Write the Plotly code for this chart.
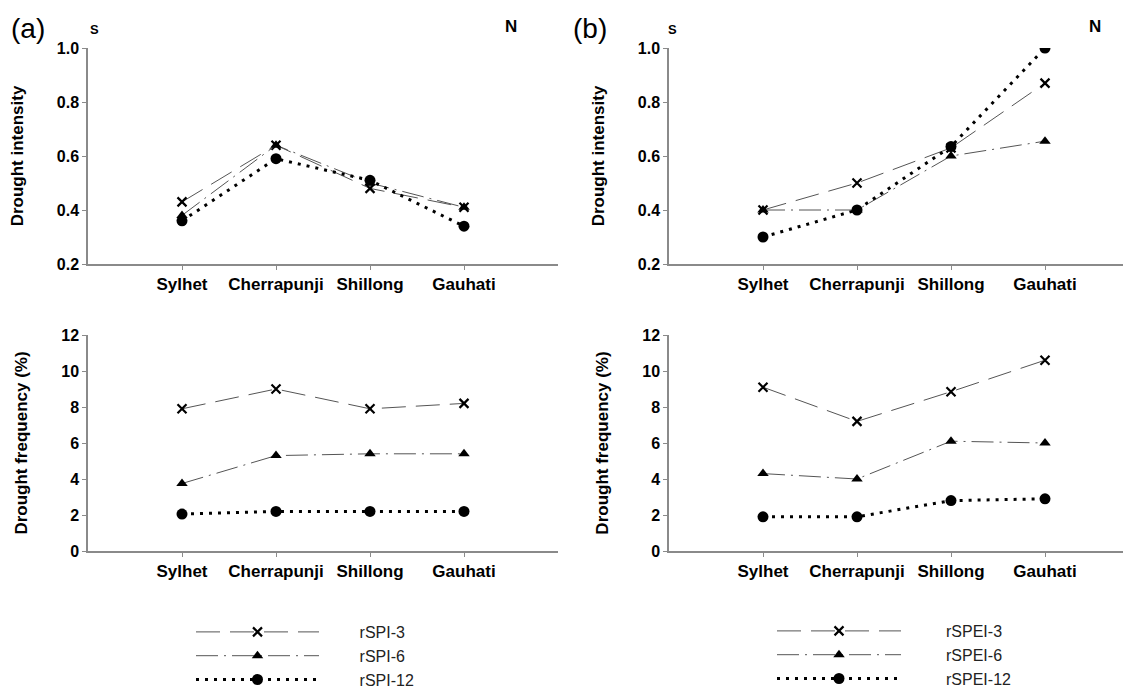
import plotly.graph_objects as go

stations = ["Sylhet", "Cherrapunji", "Shillong", "Gauhati"]

# Panel (a): rSPI
spi_int_3 = [0.43, 0.64, 0.48, 0.41]
spi_int_6 = [0.38, 0.64, 0.50, 0.41]
spi_int_12 = [0.36, 0.59, 0.51, 0.34]
spi_freq_3 = [7.9, 9.0, 7.9, 8.2]
spi_freq_6 = [3.75, 5.3, 5.4, 5.4]
spi_freq_12 = [2.05, 2.2, 2.2, 2.2]

# Panel (b): rSPEI
spei_int_3 = [0.40, 0.50, 0.63, 0.87]
spei_int_6 = [0.40, 0.40, 0.60, 0.655]
spei_int_12 = [0.30, 0.40, 0.635, 1.00]
spei_freq_3 = [9.1, 7.2, 8.85, 10.6]
spei_freq_6 = [4.3, 4.0, 6.1, 6.0]
spei_freq_12 = [1.9, 1.9, 2.8, 2.9]

OFF = 8  # page body margin
W, H = 1131 - OFF, 689 - OFF
FONT = "Liberation Sans, Arial, sans-serif"
PAD_A = "\u00a0" * 8
PAD_B = "\u00a0" * 9

styles = {
    "3": dict(line=dict(color="#555555", width=1, dash="24px,10px"),
              marker=dict(symbol="x-thin", size=9, color="black", line=dict(width=2.2, color="black"))),
    "6": dict(line=dict(color="#555555", width=1, dash="22px,6px,2px,6px"),
              marker=dict(symbol="triangle-up", size=10, color="black")),
    "12": dict(line=dict(color="black", width=3, dash="3px,6px"),
               marker=dict(symbol="circle", size=11, color="black")),
}

fig = go.Figure()

def add(y, key, xa, ya, name, legend, show):
    pad = PAD_A if legend == "legend" else PAD_B
    fig.add_trace(go.Scatter(
        x=stations, y=y, mode="lines+markers", name=pad + name,
        line=styles[key]["line"], marker=styles[key]["marker"],
        xaxis=xa, yaxis=ya, legend=legend, showlegend=show))

add(spi_int_3, "3", "x", "y", "rSPI-3", "legend", False)
add(spi_int_6, "6", "x", "y", "rSPI-6", "legend", False)
add(spi_int_12, "12", "x", "y", "rSPI-12", "legend", False)
add(spi_freq_3, "3", "x2", "y2", "rSPI-3", "legend", True)
add(spi_freq_6, "6", "x2", "y2", "rSPI-6", "legend", True)
add(spi_freq_12, "12", "x2", "y2", "rSPI-12", "legend", True)
add(spei_int_3, "3", "x3", "y3", "rSPEI-3", "legend2", False)
add(spei_int_6, "6", "x3", "y3", "rSPEI-6", "legend2", False)
add(spei_int_12, "12", "x3", "y3", "rSPEI-12", "legend2", False)
add(spei_freq_3, "3", "x4", "y4", "rSPEI-3", "legend2", True)
add(spei_freq_6, "6", "x4", "y4", "rSPEI-6", "legend2", True)
add(spei_freq_12, "12", "x4", "y4", "rSPEI-12", "legend2", True)

def px_x(p):
    return (p - OFF) / W

def px_y(p):
    return 1 - (p - OFF) / H

xa_dom = [px_x(88), px_x(558)]
xb_dom = [px_x(669), 1.0]
top_dom = [px_y(264), px_y(48)]
bot_dom = [px_y(551), px_y(335)]

axis_common = dict(showline=True, linecolor="#8a8a8a", linewidth=1.5, ticks="outside",
                   ticklen=4, tickcolor="#8a8a8a", showgrid=False, zeroline=False,
                   automargin=False)

def xaxis(dom, anchor, rng):
    return dict(domain=dom, anchor=anchor, type="category", categoryorder="array",
                categoryarray=stations, range=rng,
                tickfont=dict(family=FONT, size=17, color="black", weight="bold"),
                **axis_common)

def yaxis(dom, anchor, rng, dtick, fmt, title):
    return dict(domain=dom, anchor=anchor, range=rng, dtick=dtick, tickformat=fmt,
                tickfont=dict(family=FONT, size=16, color="black", weight="bold"),
                title=dict(text=title, font=dict(family=FONT, size=17, color="black", weight="bold"),
                           standoff=29),
                **axis_common)

rb_end = -1 + (1131 - 669) / 94.0

legend_font = dict(family=FONT, size=16, color="#222222")

fig.update_layout(
    template="none",
    width=W, height=H, margin=dict(l=0, r=0, t=0, b=0, autoexpand=False),
    plot_bgcolor="white", paper_bgcolor="white",
    font=dict(family=FONT, color="black"),
    xaxis=xaxis(xa_dom, "y", [-1, 4]),
    yaxis=yaxis(top_dom, "x", [0.2, 1.0], 0.2, ".1f", "Drought intensity"),
    xaxis2=xaxis(xa_dom, "y2", [-1, 4]),
    yaxis2=yaxis(bot_dom, "x2", [0, 12], 2, "d", "Drought frequency (%)"),
    xaxis3=xaxis(xb_dom, "y3", [-1, rb_end]),
    yaxis3=yaxis(top_dom, "x3", [0.2, 1.0], 0.2, ".1f", "Drought intensity"),
    xaxis4=xaxis(xb_dom, "y4", [-1, rb_end]),
    yaxis4=yaxis(bot_dom, "x4", [0, 12], 2, "d", "Drought frequency (%)"),
    legend=dict(x=px_x(191), y=px_y(697), xanchor="left", yanchor="bottom", itemwidth=123,
                font=legend_font, tracegroupgap=0, bgcolor="rgba(0,0,0,0)"),
    legend2=dict(x=px_x(772), y=px_y(696), xanchor="left", yanchor="bottom", itemwidth=124,
                 font=legend_font, tracegroupgap=0, bgcolor="rgba(0,0,0,0)"),
)

ann = [
    ("(a)", 9, 28, 28, "normal"),
    ("(b)", 571, 28, 28, "normal"),
    ("S", 88, 29, 13, "bold"),
    ("N", 503, 27, 17, "bold"),
    ("S", 666, 29, 13, "bold"),
    ("N", 1087, 27, 17, "bold"),
]
for text, x, y, size, weight in ann:
    fig.add_annotation(text=text, x=px_x(x), y=px_y(y), xref="paper", yref="paper",
                       xanchor="left", yanchor="middle", showarrow=False,
                       font=dict(family=FONT, size=size, color="black", weight=weight))

fig.write_html("out.html")
